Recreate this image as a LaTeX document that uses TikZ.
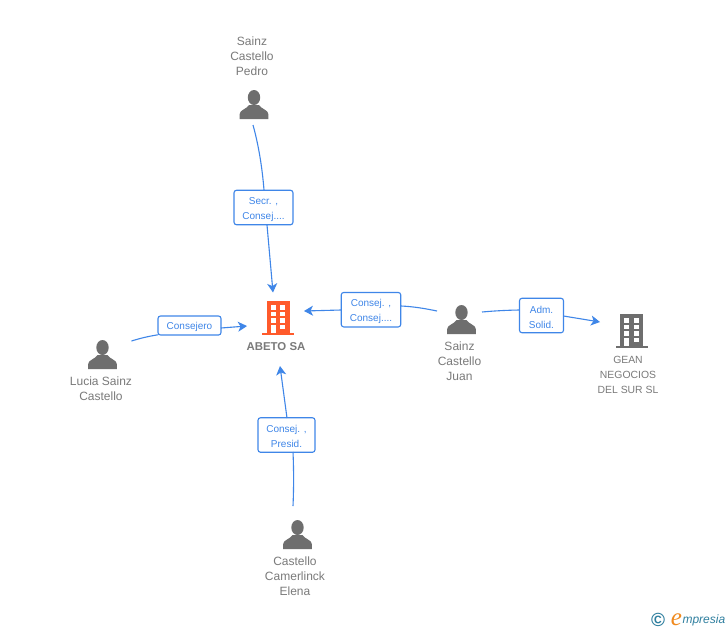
\documentclass[tikz,border=0pt]{standalone}
\usepackage{fontspec}
\setmainfont{Liberation Sans}
\newfontfamily\logoserif{Liberation Serif}
\usetikzlibrary{arrows.meta}
\definecolor{linkblue}{HTML}{3F86E8}
\definecolor{icongray}{HTML}{6E6E6E}
\definecolor{txtgray}{HTML}{7A7A7A}
\definecolor{abeto}{HTML}{FF5A2B}
\definecolor{logoblue}{HTML}{2F7F9F}
\definecolor{logoorange}{HTML}{F08A1E}
\newcommand\dnstrut{\rule{0pt}{10.2pt}}
\tikzset{
  x=1pt,y=-1pt,
  every node/.style={inner sep=0pt,outer sep=0pt},
  lbl/.style={draw=linkblue,line width=1.1pt,rounded corners=2.5pt,fill=white,text=linkblue,
    font=\fontsize{10}{15}\selectfont,align=center,anchor=center},
  who/.style={text=txtgray,font=\fontsize{12}{15}\selectfont,align=center,anchor=north},
  link/.style={draw=linkblue,line width=1.1pt},
  linka/.style={link,-{Stealth[length=9pt,width=10pt,inset=2.5pt]}},
  person/.pic={
    \fill[icongray] (0,-7.5) ellipse (6.2 and 7.5);
    \fill[icongray] (-14.3,14) -- (-14.3,9) .. controls (-14.3,5) and (-8,4.5) .. (-5,0)
      -- (5,0) .. controls (8,4.5) and (14.3,5) .. (14.3,9) -- (14.3,14) -- cycle;
  },
  building/.pic={
    \fill[#1] (-11.5,-16) rectangle (11.5,16);
    \fill[#1] (-16,16) rectangle (16,18);
    \foreach \yy in {-11.8,-5.2,1.3}{
      \fill[white] (-7.2,\yy) rectangle (-2.2,\yy+4.6);
      \fill[white] (2.2,\yy) rectangle (7.2,\yy+4.6);
    }
    \fill[white] (-7.2,7.5) rectangle (-2.2,16);
    \fill[white] (2.2,7.5) rectangle (7.2,12.2);
  },
}
\begin{document}
\begin{tikzpicture}
\useasboundingbox (0,0) rectangle (728,630);
\fill[white] (0,0) rectangle (728,630);

% icons
\pic at (254,105) {person};
\pic at (102.5,355) {person};
\pic at (461.5,320) {person};
\pic at (297.5,535) {person};
\pic at (278,317) {building=abeto};
\pic at (631.5,330) {building=icongray};

% names
\node[who] (pedro) at (252,37) {Sainz\\Castello\\Pedro};
\node[who] (lucia) at (101,377) {Lucia Sainz\\Castello};
\node[who] (juan) at (459.5,342) {Sainz\\Castello\\Juan};
\node[who] (elena) at (295,557) {Castello\\Camerlinck\\Elena};
\node[text=txtgray,font=\fontsize{11.4}{15}\selectfont\bfseries,anchor=north] (abetoname) at (276,343) {ABETO SA};
\node[text=txtgray,font=\fontsize{10.4}{15}\selectfont,align=center,anchor=north] (gean) at (628,356) {GEAN\\NEGOCIOS\\DEL SUR SL};

% labels
\node[lbl,minimum width=59pt,minimum height=34.5pt] (l1) at (263.5,207.5) {\dnstrut Secr. ,\\Consej....};
\node[lbl,minimum width=59.5pt,minimum height=34.5pt] (l2) at (371,309.7) {\dnstrut Consej. ,\\Consej....};
\node[lbl,minimum width=44pt,minimum height=34.5pt] (l3) at (541.5,315.5) {\dnstrut Adm.\\Solid.};
\node[lbl,minimum width=63pt,minimum height=19pt] (l4) at (189.5,325.5) {\dnstrut Consejero};
\node[lbl,minimum width=57pt,minimum height=34.5pt] (l5) at (286.5,435) {\dnstrut Consej. ,\\Presid.};

% connector ends
\coordinate (p1s) at (253,125);
\coordinate (p1m) at (264,190);
\coordinate (p1n) at (267,225);
\coordinate (p1e) at (273,292.5);
\coordinate (p2s) at (131.5,341);
\coordinate (p2m) at (158,334.8);
\coordinate (p2n) at (221,328);
\coordinate (p2e) at (247,326);
\coordinate (p3s) at (437,311);
\coordinate (p3m) at (401,306);
\coordinate (p3n) at (341,310);
\coordinate (p3e) at (304,311);
\coordinate (p4s) at (482,312);
\coordinate (p4m) at (519.5,310);
\coordinate (p4n) at (563.5,316);
\coordinate (p4e) at (600,322);
\coordinate (p5s) at (293,506);
\coordinate (p5m) at (293,452);
\coordinate (p5n) at (287,418);
\coordinate (p5e) at (280,366);

\draw[link] (p1s) .. controls (258,143) and (262,165) .. (p1m);
\draw[linka] (p1n) -- (p1e);
\draw[link] (p2s) .. controls (141,338) and (150,336) .. (p2m);
\draw[linka] (p2n) -- (p2e);
\draw[link] (p3s) .. controls (425,308.5) and (413,306.5) .. (p3m);
\draw[linka] (p3n) -- (p3e);
\draw[link] (p4s) .. controls (495,310.8) and (507,310.2) .. (p4m);
\draw[linka] (p4n) -- (p4e);
\draw[link] (p5s) .. controls (293.8,488) and (293.8,470) .. (p5m);
\draw[linka] (p5n) -- (p5e);

% logo
\node[text=logoblue,font=\fontsize{19}{19}\selectfont\bfseries,anchor=center] (copy) at (658,619.5) {©};
\node[text=logoorange,font=\logoserif\fontsize{25}{25}\selectfont\itshape,anchor=base] (loge) at (676.5,625) {e};
\node[text=logoblue,font=\fontsize{12}{12}\selectfont\itshape,anchor=base west] (logt) at (682.5,623.5) {mpresia};
\end{tikzpicture}
\end{document}
